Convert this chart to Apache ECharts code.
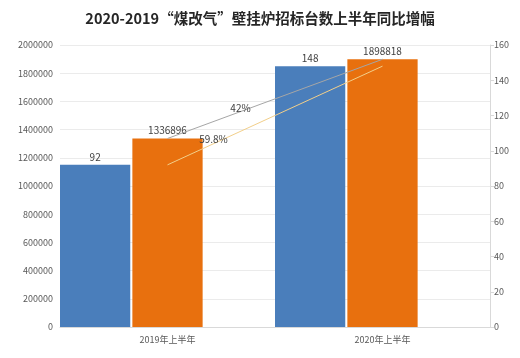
<!DOCTYPE html>
<html>
<head>
<meta charset="utf-8">
<script src="https://cdn.jsdelivr.net/npm/echarts@6/dist/echarts.min.js"></script>
<style>html,body{margin:0;padding:0;background:#fff}#c{width:520px;height:358px}</style>
</head>
<body>
<div id="c"></div>
<script>
const categories = ['2019年上半年', '2020年上半年'];
const unitCounts = [92, 148];              // right axis (blue bars)
const bidTotals = [1336896, 1898818];      // left axis (orange bars)
const growthLabels = ['42%', '59.8%'];
const leftTicks = { min: 0, max: 2000000, interval: 200000 };
const rightTicks = { min: 0, max: 160, interval: 20 };

const chart = echarts.init(document.getElementById('c'));
const txt = '#404040';
const font = 'Noto Sans CJK SC, sans-serif';

chart.setOption({
  backgroundColor: '#ffffff',
  animation: false,
  title: {
    text: '2020-2019“煤改气”壁挂炉招标台数上半年同比增幅',
    left: 'center', top: 6,
    textStyle: { fontSize: 14.5, fontWeight: 'bold', color: '#262626', fontFamily: font }
  },
  grid: { left: 60, right: 30, top: 45, bottom: 31 },
  xAxis: {
    type: 'category', data: categories,
    axisLine: { lineStyle: { color: '#d9d9d9' } },
    axisTick: { show: false },
    axisLabel: { color: '#595959', fontSize: 9, fontFamily: font, margin: 8 }
  },
  yAxis: [
    {
      type: 'value', min: leftTicks.min, max: leftTicks.max, interval: leftTicks.interval,
      axisLine: { show: false }, axisTick: { show: false },
      axisLabel: { color: '#595959', fontSize: 9, fontFamily: font, margin: 7, formatter: v => String(v) },
      splitLine: { lineStyle: { color: '#ebebeb' } }
    },
    {
      type: 'value', min: rightTicks.min, max: rightTicks.max, interval: rightTicks.interval,
      position: 'right',
      axisLine: { show: true, lineStyle: { color: '#d9d9d9' } },
      axisTick: { show: true, length: 4, lineStyle: { color: '#d9d9d9' } },
      axisLabel: { color: '#595959', fontSize: 9, fontFamily: font, margin: 4 },
      splitLine: { show: false }
    }
  ],
  series: [
    {
      name: '台数', type: 'bar', yAxisIndex: 1, data: unitCounts,
      barCategoryGap: '0%', barGap: '3%',
      itemStyle: { color: '#4a7ebb' },
      label: { show: true, position: 'top', color: txt, fontSize: 10, fontFamily: font, distance: 3 }
    },
    {
      name: '招标量', type: 'bar', yAxisIndex: 0, data: bidTotals,
      barCategoryGap: '0%', barGap: '3%',
      itemStyle: { color: '#e8700e' },
      label: { show: true, position: 'top', color: txt, fontSize: 10, fontFamily: font, distance: 3 }
    },
    {
      name: 'spacer', type: 'bar', yAxisIndex: 0, data: ['-', '-'],
      barCategoryGap: '0%', barGap: '3%', silent: true
    },
    {
      name: '招标量增幅', type: 'line', yAxisIndex: 0, z: 5,
      data: [
        { value: bidTotals[0], label: { show: true, formatter: growthLabels[0], offset: [73, -20], position: 'top' } },
        bidTotals[1]
      ],
      symbol: 'circle', symbolSize: 1, showSymbol: true,
      itemStyle: { color: 'rgba(0,0,0,0)' },
      lineStyle: { color: '#a6a6a6', width: 1 },
      label: { show: false, color: txt, fontSize: 10, fontFamily: font }
    },
    {
      name: '台数增幅', type: 'line', yAxisIndex: 1, z: 5,
      data: [
        { value: unitCounts[0], label: { show: true, formatter: growthLabels[1], offset: [46, -15], position: 'top' } },
        unitCounts[1]
      ],
      symbol: 'circle', symbolSize: 1, showSymbol: true,
      itemStyle: { color: 'rgba(0,0,0,0)' },
      lineStyle: { color: '#f2cf8a', width: 1 },
      label: { show: false, color: txt, fontSize: 10, fontFamily: font }
    }
  ]
});
</script>
</body>
</html>
